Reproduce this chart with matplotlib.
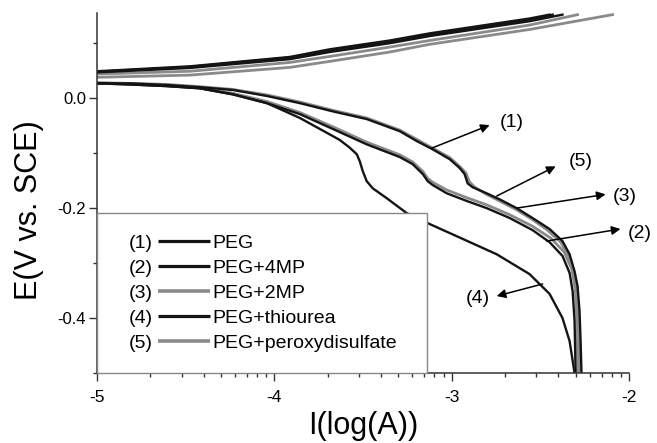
import matplotlib
matplotlib.use("Agg")
import matplotlib.pyplot as plt
from matplotlib.legend_handler import HandlerBase
from matplotlib.lines import Line2D
from matplotlib.text import Text
from matplotlib.ticker import FixedLocator, FormatStrFormatter
import numpy as np

plt.rcParams['font.family'] = ['Liberation Sans', 'DejaVu Sans']
plt.rcParams['axes.unicode_minus'] = False

# ---------------- data (log current, potential) ----------------
labels = ['PEG', 'PEG+4MP', 'PEG+2MP', 'PEG+thiourea', 'PEG+peroxydisulfate']
numbers = ['(1)', '(2)', '(3)', '(4)', '(5)']

# cathodic branches
peg_cath_x = [-5.0, -4.814, -4.606, -4.420, -4.234, -4.042, -3.856, -3.670, -3.479, -3.293, -3.197,
              -3.107, -3.011, -2.955, -2.927, -2.910, -2.882, -2.803, -2.730, -2.634, -2.544, -2.448,
              -2.375, -2.335, -2.307, -2.290, -2.279, -2.273, -2.268]
peg_cath_E = [0.027, 0.027, 0.024, 0.020, 0.015, 0.004, -0.009, -0.024, -0.038, -0.060, -0.078,
              -0.093, -0.111, -0.127, -0.138, -0.155, -0.162, -0.173, -0.184, -0.200, -0.218, -0.238,
              -0.260, -0.284, -0.315, -0.342, -0.387, -0.442, -0.500]

perox_cath_x = [-5.0, -4.814, -4.606, -4.420, -4.234, -4.042, -3.856, -3.670, -3.479, -3.293, -3.197,
                -3.107, -3.011, -2.955, -2.920, -2.900, -2.870, -2.803, -2.730, -2.634, -2.544, -2.460,
                -2.385, -2.340, -2.312, -2.296, -2.287, -2.283, -2.280]
perox_cath_E = [0.028, 0.027, 0.025, 0.021, 0.016, 0.006, -0.007, -0.022, -0.036, -0.058, -0.075,
                -0.091, -0.108, -0.124, -0.136, -0.152, -0.162, -0.175, -0.187, -0.203, -0.221, -0.240,
                -0.262, -0.287, -0.318, -0.345, -0.390, -0.445, -0.500]

mp4_cath_x = [-5.0, -4.814, -4.606, -4.420, -4.234, -4.042, -3.856, -3.670, -3.479, -3.293, -3.220,
              -3.163, -3.135, -3.107, -3.028, -2.915, -2.803, -2.673, -2.544, -2.448, -2.375, -2.335,
              -2.318, -2.307, -2.301]
mp4_cath_E = [0.027, 0.025, 0.022, 0.018, 0.007, -0.009, -0.029, -0.056, -0.084, -0.107, -0.120,
              -0.138, -0.151, -0.158, -0.173, -0.187, -0.200, -0.218, -0.240, -0.262, -0.287, -0.318,
              -0.351, -0.405, -0.500]

mp2_cath_x = [-5.0, -4.814, -4.606, -4.420, -4.234, -4.042, -3.856, -3.670, -3.479, -3.293, -3.220,
              -3.163, -3.135, -3.107, -3.028, -2.915, -2.803, -2.673, -2.544, -2.440, -2.365, -2.322,
              -2.303, -2.293, -2.288]
mp2_cath_E = [0.028, 0.026, 0.023, 0.019, 0.009, -0.006, -0.026, -0.052, -0.080, -0.103, -0.116,
              -0.133, -0.146, -0.153, -0.167, -0.181, -0.194, -0.212, -0.233, -0.255, -0.280, -0.312,
              -0.348, -0.405, -0.500]

thio_cath_x = [-5.0, -4.814, -4.606, -4.420, -4.234, -4.042, -3.856, -3.670, -3.631, -3.575, -3.535,
               -3.518, -3.501, -3.479, -3.445, -3.366, -3.254, -3.124, -2.938, -2.746, -2.561, -2.448,
               -2.375, -2.335, -2.307]
thio_cath_E = [0.027, 0.025, 0.022, 0.018, 0.007, -0.009, -0.036, -0.069, -0.076, -0.090, -0.102,
               -0.115, -0.133, -0.151, -0.164, -0.182, -0.209, -0.229, -0.256, -0.284, -0.320, -0.356,
               -0.400, -0.442, -0.500]

# anodic branches
peg_anod_x = [-5.0, -4.476, -3.913, -3.687, -3.349, -3.124, -2.561, -2.448]
peg_anod_E = [0.049, 0.058, 0.075, 0.089, 0.105, 0.118, 0.145, 0.152]
thio_anod_x = [-5.0, -4.476, -3.913, -3.687, -3.349, -3.124, -2.561, -2.430]
thio_anod_E = [0.048, 0.057, 0.074, 0.087, 0.103, 0.116, 0.143, 0.152]
mp4_anod_x = [-5.0, -4.476, -3.913, -3.687, -3.349, -3.124, -2.561, -2.375]
mp4_anod_E = [0.047, 0.055, 0.071, 0.084, 0.100, 0.113, 0.140, 0.152]
mp2_anod_x = [-5.0, -4.476, -3.913, -3.687, -3.349, -3.124, -2.561, -2.290]
mp2_anod_E = [0.044, 0.049, 0.065, 0.076, 0.093, 0.105, 0.133, 0.152]
perox_anod_x = [-5.0, -4.476, -3.913, -3.687, -3.349, -3.124, -2.561, -2.093]
perox_anod_E = [0.038, 0.042, 0.056, 0.067, 0.084, 0.098, 0.125, 0.152]

# annotation arrows: (tail on curve) -> (head), label position
ann_tail = [(-3.113, -0.091), (-2.465, -0.260), (-2.634, -0.200), (-2.487, -0.338), (-2.746, -0.178)]
ann_head = [(-2.786, -0.049), (-2.048, -0.238), (-2.132, -0.175), (-2.746, -0.360), (-2.414, -0.124)]
ann_text = [(-2.662, -0.045), (-1.940, -0.247), (-2.025, -0.178), (-2.854, -0.364), (-2.273, -0.115)]

# ---------------- figure ----------------
BLACK = '#141414'
GRAY = '#8a8a8a'

fig = plt.figure(figsize=(6.57, 4.43), dpi=100)
ax = fig.add_axes([97 / 657, 70 / 443, 532 / 657, 360 / 443])

series = [
    (peg_cath_x, peg_cath_E, peg_anod_x, peg_anod_E, BLACK, 1.7),
    (mp4_cath_x, mp4_cath_E, mp4_anod_x, mp4_anod_E, BLACK, 1.7),
    (mp2_cath_x, mp2_cath_E, mp2_anod_x, mp2_anod_E, GRAY, 2.0),
    (thio_cath_x, thio_cath_E, thio_anod_x, thio_anod_E, BLACK, 1.7),
    (perox_cath_x, perox_cath_E, perox_anod_x, perox_anod_E, GRAY, 2.0),
]
draw_order = [2, 4, 0, 1, 3]
handles = [None] * 5
for i in draw_order:
    cx, cE, axx, aE, col, lw = series[i]
    ln, = ax.plot(cx, cE, color=col, lw=lw, solid_joinstyle='round', zorder=2)
    ax.plot(axx, aE, color=col, lw=lw, solid_joinstyle='round', zorder=2)
    handles[i] = ln

ax.set_xlim(-5, -2)
ax.set_ylim(-0.5, 0.155)

for s in ['top', 'right']:
    ax.spines[s].set_visible(False)
for s in ['left', 'bottom']:
    ax.spines[s].set_color('#333333')
    ax.spines[s].set_linewidth(1.1)

major_x = [-5, -4, -3, -2]
ax.xaxis.set_major_locator(FixedLocator(major_x))
minor_x = [d + np.log10(k) for d in major_x[:-1] for k in range(2, 10)]
ax.xaxis.set_minor_locator(FixedLocator(minor_x))
ax.xaxis.set_major_formatter(FormatStrFormatter('%d'))
ax.yaxis.set_major_locator(FixedLocator([-0.4, -0.2, 0.0]))
ax.yaxis.set_minor_locator(FixedLocator([-0.5, -0.3, -0.1, 0.1]))
ax.yaxis.set_major_formatter(FormatStrFormatter('%.1f'))

ax.tick_params(axis='x', which='major', direction='out', length=5.5, width=1.0, color='#333333',
               labelsize=12.5, pad=7)
ax.tick_params(axis='x', which='minor', direction='out', length=3, width=1.0, color='#333333')
ax.tick_params(axis='y', which='major', direction='out', length=6, width=1.0, color='#333333',
               labelsize=12, pad=2)
ax.tick_params(axis='y', which='minor', direction='out', length=3, width=1.0, color='#333333')

ax.set_xlabel('I(log(A))', fontsize=22, labelpad=0)
ax.set_ylabel('E(V vs. SCE)', fontsize=22)
ax.xaxis.set_label_coords(0.5, -0.105)
ax.yaxis.set_label_coords(-0.100, 0.453)

# annotations
for tail, head, tpos, num in zip(ann_tail, ann_head, ann_text, numbers):
    ax.annotate('', xy=head, xytext=tail,
                arrowprops=dict(arrowstyle='-|>', color='black', lw=1.1, mutation_scale=13,
                                shrinkA=0, shrinkB=0))
    ax.text(tpos[0], tpos[1], num, fontsize=14, ha='center', va='center', clip_on=False)


# legend with numbered handles
class NumHandler(HandlerBase):
    def __init__(self, num, line_pts=37.4, gap_pts=3.6):
        super().__init__()
        self.num = num
        self.line_pts = line_pts
        self.gap = gap_pts

    def create_artists(self, legend, orig_handle, xdescent, ydescent, width, height, fontsize, trans):
        x1 = width - xdescent
        x0 = x1 - self.line_pts
        y = height / 2 - ydescent
        ln = Line2D([x0, x1], [y, y], color=orig_handle.get_color(),
                    linewidth=orig_handle.get_linewidth() + 0.6, solid_capstyle='butt')
        ln.set_transform(trans)
        txt = Text(x0 - self.gap, -ydescent, self.num, ha='right', va='baseline',
                   fontsize=fontsize, family=['Liberation Sans', 'DejaVu Sans'])
        txt.set_transform(trans)
        return [ln, txt]


hmap = {h: NumHandler(n) for h, n in zip(handles, numbers)}
leg = ax.legend(handles, labels, loc='lower left', bbox_to_anchor=(0, 0, 330 / 532, 161 / 360),
                mode='expand', handler_map=hmap, handlelength=4.7, handletextpad=0.15,
                borderpad=1.1, labelspacing=0.38, borderaxespad=0, fontsize=14,
                frameon=True, fancybox=False, edgecolor='#888888', framealpha=1)
leg.get_frame().set_linewidth(1.0)
leg.set_zorder(5)

fig.savefig('out.png', dpi=100)
